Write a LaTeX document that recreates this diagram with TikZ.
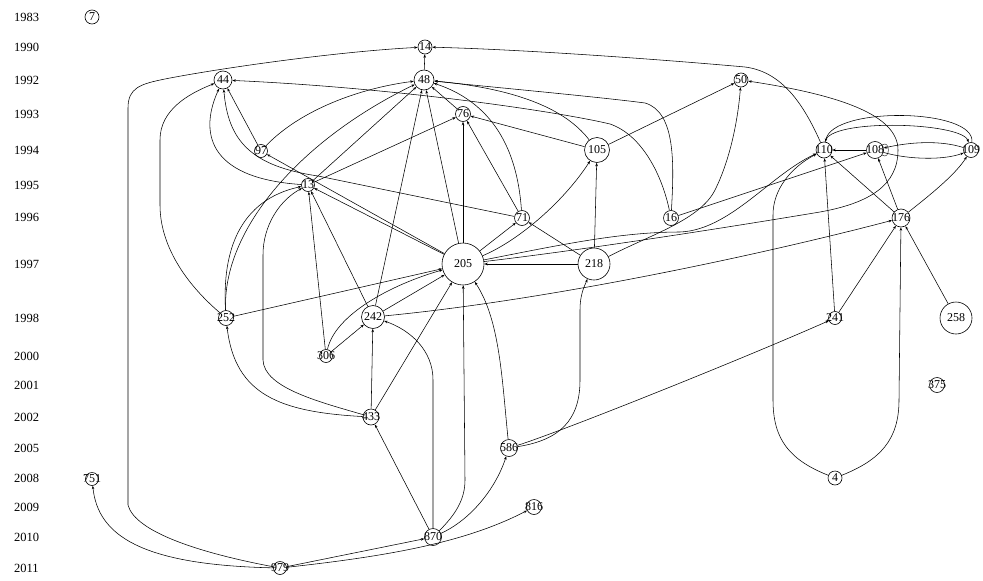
\documentclass[tikz,border=0pt]{standalone}
\usepackage{fontspec}
\setmainfont{Liberation Serif}
\usetikzlibrary{arrows.meta}
\newcommand{\nlab}[1]{\makebox[0pt]{#1}}

\begin{document}
\begin{tikzpicture}[x=1pt,y=-1pt,
  v/.style={circle,draw,line width=0.6pt,inner sep=0pt,minimum size=#1,
    font=\fontsize{12}{12}\selectfont},
  yr/.style={anchor=west,inner sep=0pt,font=\fontsize{12.5}{13}\selectfont},
  e/.style={line width=0.55pt,-{Stealth[length=3.5pt,width=2.6pt]}}]
\useasboundingbox (0,0) rectangle (983,581);
% years
\foreach \yr/\yy in {1983/17,1990/47,1992/80,1993/114,1994/150,1995/185,1996/217,
  1997/264,1998/318,2000/356,2001/385,2002/417,2005/448,2008/478,2009/507,
  2010/537,2011/568}
  \node[yr] (y\yr) at (14,\yy) {\yr};

% papers
\node[v=14pt] (n7) at (92,17) {\nlab{7}};
\node[v=14pt] (n14) at (425,47) {\nlab{14}};
\node[v=18pt] (n44) at (223,80) {\nlab{44}};
\node[v=20pt] (n48) at (424,80) {\nlab{48}};
\node[v=14pt] (n50) at (741,80) {\nlab{50}};
\node[v=15pt] (n76) at (463,114) {\nlab{76}};
\node[v=13pt] (n97) at (261,151) {\nlab{97}};
\node[v=25pt] (n105) at (597,150) {\nlab{105}};
\node[v=16pt] (n110) at (824,150) {\nlab{110}};
\node[v=17pt] (n108) at (875,150) {\nlab{108}};
\node[v=15pt] (n109) at (971,150) {\nlab{109}};
\node[v=13pt] (n13) at (308,185) {\nlab{13}};
\node[v=15pt] (n71) at (522,218) {\nlab{71}};
\node[v=15pt] (n16) at (671,218) {\nlab{16}};
\node[v=18pt] (n176) at (901,218) {\nlab{176}};
\node[v=42pt] (n205) at (463,264) {\nlab{205}};
\node[v=32pt] (n218) at (594,264) {\nlab{218}};
\node[v=15pt] (n252) at (226,318) {\nlab{252}};
\node[v=23pt] (n242) at (373,317) {\nlab{242}};
\node[v=13pt] (n241) at (835,318) {\nlab{241}};
\node[v=32pt] (n258) at (956,318) {\nlab{258}};
\node[v=13pt] (n306) at (326,356) {\nlab{306}};
\node[v=15pt] (n375) at (937,385) {\nlab{375}};
\node[v=16pt] (n433) at (371,417) {\nlab{433}};
\node[v=17pt] (n586) at (509,448) {\nlab{586}};
\node[v=13pt] (n751) at (92,479) {\nlab{751}};
\node[v=14pt] (n4) at (835,478) {\nlab{4}};
\node[v=15pt] (n816) at (534,507) {\nlab{816}};
\node[v=17pt] (n870) at (433,537) {\nlab{870}};
\node[v=13pt] (n979) at (280,568) {\nlab{979}};

% citations
\draw[e] (n979) .. controls (200,553) and (135,532) .. (128,505) -- (128,108)
  .. controls (128,88) and (140,84) .. (165,79) .. controls (210,70) and (330,52) .. (n14);
\draw[e] (n110) .. controls (806,110) and (785,72) .. (745,67)
  .. controls (690,62) and (540,50) .. (n14);
\draw[e] (n48) -- (n14);
\draw[e] (n16) .. controls (662,175) and (642,135) .. (610,124)
  .. controls (560,112) and (400,88) .. (n44);
\draw[e] (n16) .. controls (674,165) and (676,112) .. (645,103)
  .. controls (600,97) and (480,86) .. (n48);
\draw[e] (n105) .. controls (570,115) and (530,90) .. (n48);
\draw[e] (n71) .. controls (518,160) and (500,105) .. (n48);
\draw[e] (n76) -- (n48);
\draw[e] (n242) -- (n48);
\draw[e] (n205) -- (n48);
\draw[e] (n13) -- (n48);
\draw[e] (n252) .. controls (222,230) and (300,140) .. (n48);
\draw[e] (n252) .. controls (222,250) and (240,200) .. (n13);
\draw[e] (n252) .. controls (185,283) and (160,245) .. (160,205) -- (160,140)
  .. controls (160,110) and (188,94) .. (n44);
\draw[e] (n252) -- (n205);
\draw[e] (n13) .. controls (205,178) and (200,130) .. (n44);
\draw[e] (n71) -- (318,176) .. controls (250,166) and (228,140) .. (n44);
\draw[e] (n97) -- (n44);
\draw[e] (n97) .. controls (300,110) and (360,88) .. (n48);
\draw[e] (n205) -- (n97);
\draw[e] (n205) -- (n13);
\draw[e] (n13) -- (n76);
\draw[e] (n306) -- (n13);
\draw[e] (n242) -- (n13);
\draw[e] (n433) .. controls (320,402) and (264,388) .. (263,360) -- (263,255)
  .. controls (263,225) and (280,200) .. (n13);
\draw[e] (n433) .. controls (280,412) and (235,395) .. (n252);
\draw[e] (n433) -- (n242);
\draw[e] (n433) -- (n205);
\draw[e] (n870) -- (n433);
\draw[e] (n870) -- (433,380) .. controls (433,350) and (410,330) .. (n242);
\draw[e] (n870) .. controls (455,515) and (465,500) .. (465,480) -- (n205);
\draw[e] (n870) .. controls (470,520) and (495,490) .. (n586);
\draw[e] (n979) -- (n870);
\draw[e] (n979) .. controls (400,555) and (470,540) .. (n816);
\draw[e] (n979) .. controls (140,565) and (98,535) .. (n751);
\draw[e] (n586) .. controls (502,380) and (500,320) .. (n205);
\draw[e] (n586) .. controls (560,440) and (580,420) .. (580,380) -- (580,310)
  .. controls (580,295) and (584,287) .. (n218);
\draw[e] (n586) .. controls (560,432) and (740,360) .. (n241);
\draw[e] (n241) -- (n176);
\draw[e] (n241) -- (n110);
\draw[e] (n258) -- (n176);
\draw[e] (n4) .. controls (880,460) and (899,440) .. (899,400) -- (n176);
\draw[e] (n4) .. controls (790,460) and (773,440) .. (773,400) -- (773,215)
  .. controls (773,190) and (790,168) .. (n110);
\draw[e] (n176) -- (n110);
\draw[e] (n176) -- (n108);
\draw[e] (n176) .. controls (930,195) and (955,175) .. (n109);
\draw[e] (n242) .. controls (550,300) and (760,255) .. (n176);
\draw[e] (n108) -- (n110);
\draw[e] (n110) .. controls (828,118) and (962,122) .. (n109);
\draw[e] (n109) .. controls (976,108) and (832,106) .. (n110);
\draw[e] (n109) .. controls (940,140) and (910,142) .. (n108);
\draw[e] (n108) .. controls (910,160) and (945,160) .. (n109);
\draw (n108) to[out=35,in=-35,distance=10pt] (n108);
\draw[e] (n16) -- (n108);
\draw[e] (n105) -- (n76);
\draw[e] (n105) -- (n50);
\draw[e] (n218) -- (n105);
\draw[e] (n205) .. controls (520,240) and (565,200) .. (n105);
\draw[e] (n205) -- (n76);
\draw[e] (n205) -- (n71);
\draw[e] (n218) -- (n71);
\draw[e] (n218) -- (n205);
\draw[e] (n71) -- (n76);
\draw[e] (n205) .. controls (560,245) and (620,232) .. (680,232)
  .. controls (730,230) and (770,175) .. (n110);
\draw[e] (n205) .. controls (600,248) and (760,222) .. (820,212)
  .. controls (870,203) and (898,185) .. (898,150)
  .. controls (898,115) and (840,95) .. (n50);
\draw[e] (n218) .. controls (650,235) and (700,220) .. (715,190)
  .. controls (730,160) and (738,120) .. (n50);
\draw[e] (n306) .. controls (335,315) and (390,285) .. (n205);
\draw[e] (n306) -- (n242);
\draw[e] (n242) -- (n205);
\end{tikzpicture}
\end{document}
